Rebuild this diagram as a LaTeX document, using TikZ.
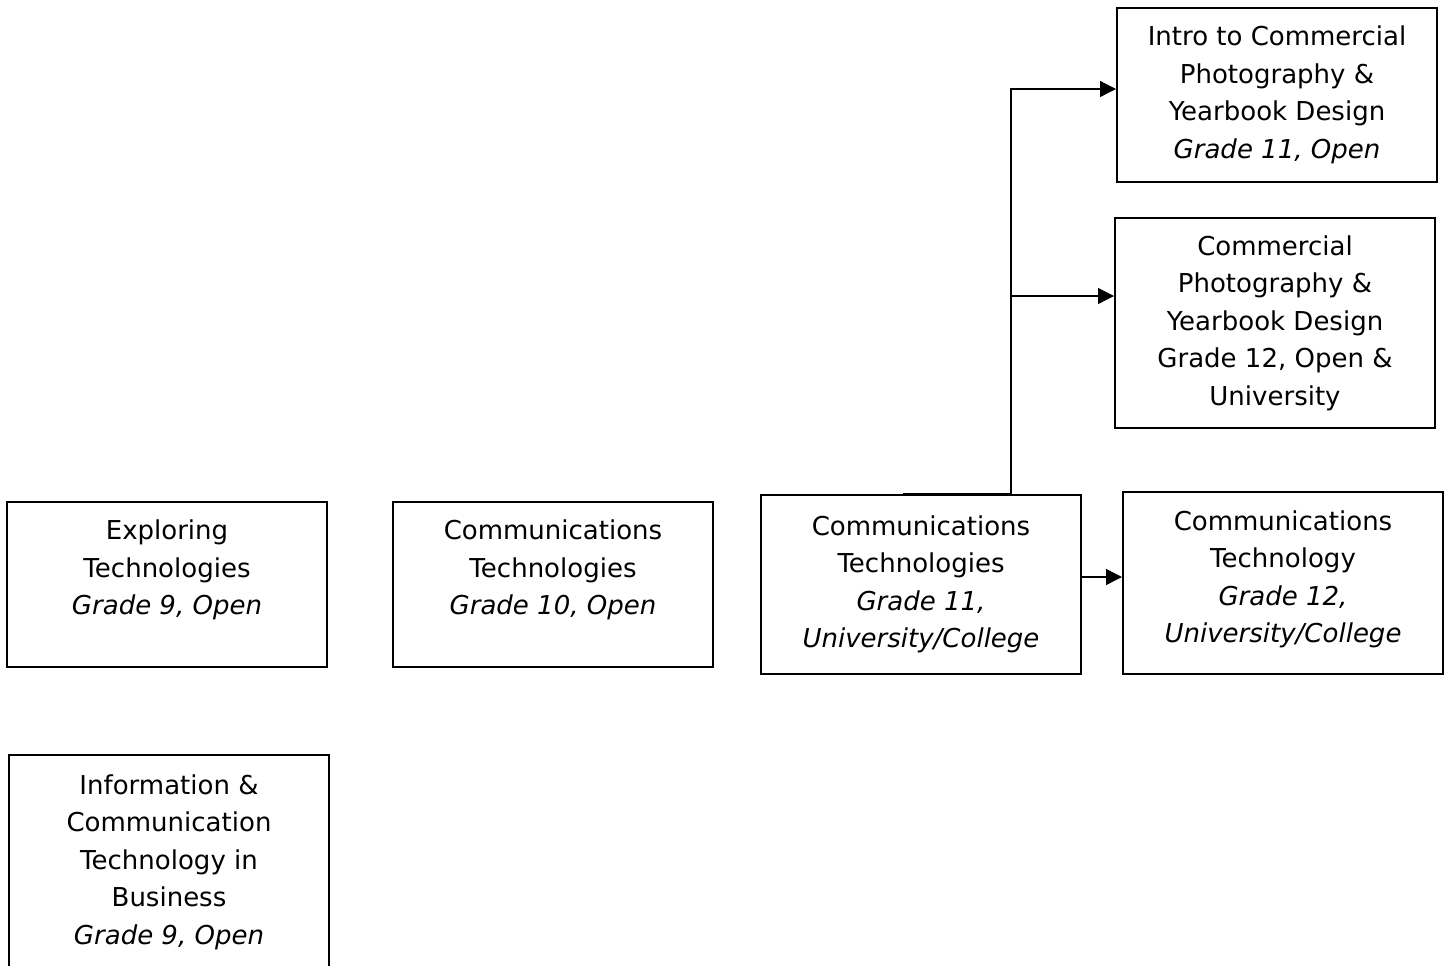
\documentclass[tikz,border=0pt]{standalone}
\usepackage{fontspec}
\setmainfont{DejaVu Sans}
\usetikzlibrary{arrows.meta}
\tikzset{
  course/.style={draw, line width=1pt, inner sep=0pt, minimum width=160pt},
  coursetext/.style={align=center, inner sep=0pt, font=\fontsize{13}{18.75}\selectfont},
  link/.style={line width=0.6pt},
  arrow/.style={link, -{Triangle[length=8pt,width=8pt]}}
}
\begin{document}
\begin{tikzpicture}[x=0.5pt,y=-0.5pt]
  \clip (0,0) rectangle (1445,965);
  % grade 9 and 10
  \node[course, minimum height=82.5pt] (explore) at (167,584.5) {};
  \node[coursetext] (explore-t) at ([yshift=7.25pt]explore.center) {Exploring\\Technologies\\\textit{Grade 9, Open}};
  \node[course, minimum height=82.5pt] (comm10) at (553,584.5) {};
  \node[coursetext] (comm10-t) at ([yshift=7.25pt]comm10.center) {Communications\\Technologies\\\textit{Grade 10, Open}};
  \node[course, minimum height=125pt] (ictbus) at (169,880) {};
  \node[coursetext] (ictbus-t) at (169,862) {Information \&\\Communication\\Technology in\\Business\\\textit{Grade 9, Open}};
  % grade 11 and 12
  \node[course, minimum height=89.5pt] (comm11) at (921,584.5) {};
  \node[coursetext] (comm11-t) at (comm11.center) {Communications\\Technologies\\\textit{Grade 11,}\\\textit{University/College}};
  \node[course, minimum height=91pt] (comm12) at (1283,583) {};
  \node[coursetext] (comm12-t) at ([yshift=1.75pt]comm12.center) {Communications\\Technology\\\textit{Grade 12,}\\\textit{University/College}};
  \node[course, minimum height=87pt] (photo11) at (1277,95) {};
  \node[coursetext] (photo11-t) at (photo11.center) {Intro to Commercial\\Photography \&\\Yearbook Design\\\textit{Grade 11, Open}};
  \node[course, minimum height=105pt] (photo12) at (1275,323) {};
  \node[coursetext] (photo12-t) at (photo12.center) {Commercial\\Photography \&\\Yearbook Design\\Grade 12, Open \&\\University};
  % connectors
  \coordinate (trunk) at (1011,494);
  \coordinate (photo12-in) at ([yshift=13.5pt]photo12.west);
  \draw[link] ([xshift=-9pt]comm11.north) -- (trunk);
  \draw[arrow] (trunk) |- ([yshift=3pt]photo11.west);
  \draw[arrow] (trunk |- photo12-in) -- (photo12-in);
  \draw[arrow] ([yshift=3.75pt]comm11.east) -- ([yshift=3.75pt]comm11.east -| comm12.west);
\end{tikzpicture}
\end{document}
